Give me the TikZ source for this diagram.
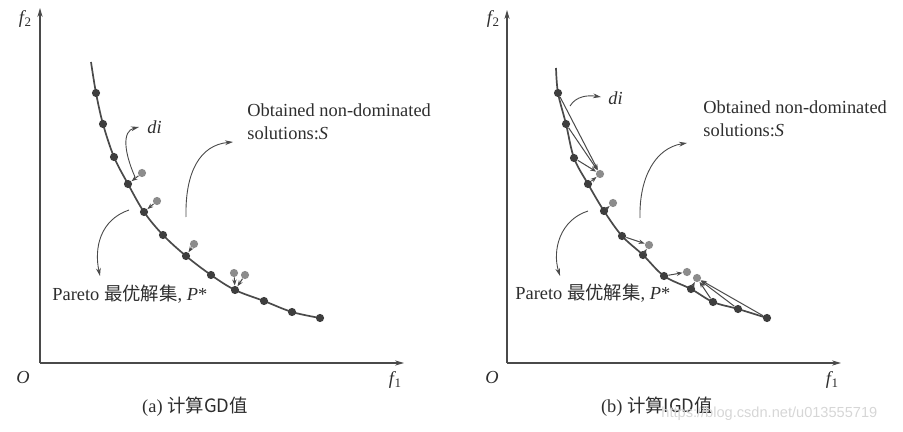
\documentclass[tikz,border=0pt]{standalone}
\usepackage{fontspec}
\setmainfont{Liberation Serif}
\newfontfamily\cjk{Noto Sans CJK SC}
\newfontfamily\wmfont{Liberation Sans}
\usetikzlibrary{arrows.meta}
\definecolor{ink}{HTML}{2E2E2E}
\definecolor{linegrey}{HTML}{4A4A4A}
\definecolor{dotdark}{HTML}{3E3E3E}
\definecolor{dotgrey}{HTML}{8C8C8C}
\definecolor{wmgrey}{HTML}{D6D6D6}
\newcommand{\fsub}[1]{{\itshape f}\kern0.3pt\raisebox{-0.35ex}{\fontsize{6.5}{7}\selectfont #1}}
\begin{document}
\begin{tikzpicture}[x=0.5pt,y=-0.5pt,
  pdot/.style={circle,fill=dotdark,inner sep=0pt,minimum size=4.1pt},
  sdot/.style={circle,fill=dotgrey,inner sep=0pt,minimum size=4.1pt},
  axis/.style={draw=linegrey,line width=0.55pt,-{Stealth[length=4.5pt,width=2.6pt]}},
  front/.style={draw=linegrey,line width=0.85pt},
  dist/.style={draw=linegrey,line width=0.5pt,-{Stealth[length=3pt,width=2.2pt]}},
  callout/.style={draw=linegrey,line width=0.45pt,-{Stealth[length=4pt,width=2.4pt]}},
  lbl/.style={text=ink,font=\fontsize{9.2}{10}\selectfont,inner sep=0pt},
]
\useasboundingbox (0,0) rectangle (903,432);

% ================= panel (a) =================
\coordinate (oA) at (40,363);
\coordinate (yA) at (40,8);
\coordinate (xA) at (404,363);
\draw[axis] (oA) -- (yA);
\draw[axis] (oA) -- (xA);
\node[lbl] (f2A) at (25,19) {\fsub{2}};
\node[lbl] (OA) at (23,377) {\itshape O};
\node[lbl] (f1A) at (395,380) {\fsub{1}};

\draw[front] plot[smooth,tension=0.55] coordinates {(91,62) (96,93) (103,124) (114,157) (128,184) (144,212) (163,235) (186,256) (211,275) (235,290) (264,301) (292,312) (320,318)};

\foreach \n/\p in {1/{(96,93)},2/{(103,124)},3/{(114,157)},4/{(128,184)},5/{(144,212)},6/{(163,235)},7/{(186,256)},8/{(211,275)},9/{(235,290)},10/{(264,301)},11/{(292,312)},12/{(320,318)}}
  \node[pdot] (a\n) at \p {};
\foreach \n/\p in {1/{(142,173)},2/{(157,201)},3/{(194,244)},4/{(234,273)},5/{(245,275)}}
  \node[sdot] (s\n) at \p {};

\draw[dist] (s1) -- (a4);
\draw[dist] (s2) -- (a5);
\draw[dist] (s3) -- (a7);
\draw[dist] (s4) -- (a9);
\draw[dist] (s5) -- (a9);

\coordinate (diA0) at (135,177);
\coordinate (diA1) at (139,127);
\draw[callout] (diA0) .. controls (124,152) and (122,131) .. (diA1);
\node[lbl,anchor=west] (diA) at (147,127) {\itshape di};

\coordinate (sA0) at (186,217);
\coordinate (sA1) at (233,142);
\draw[callout] (sA0) .. controls (185,172) and (200,145) .. (sA1);
\node[lbl,anchor=west] (obA) at (247,110) {Obtained non-dominated};
\node[lbl,anchor=west] (soA) at (247,133) {solutions:\textit{S}};

\coordinate (pA0) at (129,210);
\coordinate (pA1) at (100,276);
\draw[callout] (pA0) .. controls (100,220) and (94,248) .. (pA1);
\node[lbl,anchor=west] (parA) at (52,294) {Pareto {\cjk 最优解集}, \textit{P}*};

\node[lbl] (capA) at (195,407) {(a) {\cjk 计算GD值}};

% ================= panel (b) =================
\coordinate (oB) at (507,363);
\coordinate (yB) at (507,10);
\coordinate (xB) at (841,363);
\draw[axis] (oB) -- (yB);
\draw[axis] (oB) -- (xB);
\node[lbl] (f2B) at (493,19) {\fsub{2}};
\node[lbl] (OB) at (492,377) {\itshape O};
\node[lbl] (f1B) at (832,380) {\fsub{1}};

\draw[front] plot[smooth,tension=0.55] coordinates {(556,68) (558,93) (566,124) (574,158) (588,184) (604,211) (622,236) (643,255) (664,276) (691,289) (713,302) (738,309) (767,318)};

\foreach \n/\p in {1/{(558,93)},2/{(566,124)},3/{(574,158)},4/{(588,184)},5/{(604,211)},6/{(622,236)},7/{(643,255)},8/{(664,276)},9/{(691,289)},10/{(713,302)},11/{(738,309)},12/{(767,318)}}
  \node[pdot] (b\n) at \p {};
\foreach \n/\p in {1/{(600,174)},2/{(613,203)},3/{(649,245)},4/{(687,272)},5/{(697,278)}}
  \node[sdot] (g\n) at \p {};

\draw[dist] (b1) -- (g1);
\draw[dist] (b2) -- (g1);
\draw[dist] (b3) -- (g1);
\draw[dist] (b4) -- (g1);
\draw[dist] (b5) -- (g2);
\draw[dist] (b6) -- (g3);
\draw[dist] (b7) -- (g3);
\draw[dist] (b8) -- (g4);
\draw[dist] (b9) -- (g5);
\draw[dist] (b10) -- (g5);
\draw[dist] (b11) -- (g5);
\draw[dist] (b12) -- (g5);

\coordinate (diB0) at (570,106);
\coordinate (diB1) at (601,97);
\draw[callout] (diB0) .. controls (576,96) and (588,95) .. (diB1);
\node[lbl,anchor=west] (diB) at (608,98) {\itshape di};

\coordinate (sB0) at (640,218);
\coordinate (sB1) at (687,143);
\draw[callout] (sB0) .. controls (639,178) and (655,148) .. (sB1);
\node[lbl,anchor=west] (obB) at (703,107) {Obtained non-dominated};
\node[lbl,anchor=west] (soB) at (703,130) {solutions:\textit{S}};

\coordinate (pB0) at (588,211);
\coordinate (pB1) at (560,276);
\draw[callout] (pB0) .. controls (560,220) and (552,250) .. (pB1);
\node[lbl,anchor=west] (parB) at (515,293) {Pareto {\cjk 最优解集}, \textit{P}*};

\node[lbl] (capB) at (657,407) {(b) {\cjk 计算IGD值}};

\node[text=wmgrey,font=\wmfont\fontsize{7.3}{8}\selectfont,anchor=west,inner sep=0pt] (wm) at (661,414) {https://blog.csdn.net/u013555719};
\end{tikzpicture}
\end{document}
